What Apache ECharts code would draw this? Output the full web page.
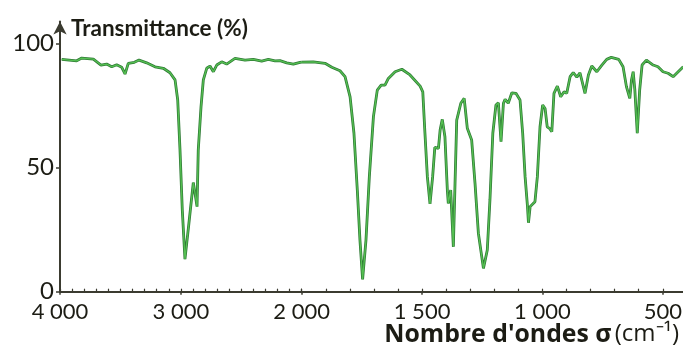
<!DOCTYPE html>
<html><head><meta charset="utf-8">
<script src="https://cdn.jsdelivr.net/npm/echarts@6/dist/echarts.min.js"></script>
<style>html,body{margin:0;padding:0;background:#fff}#c{width:683px;height:351px}</style>
</head><body><div id="c"></div>
<script>
// IR spectrum: wavenumber (cm-1) and transmittance (%)
const wavenumber = [3986,3862,3820,3724,3661,3614,3572,3531,3489,3462,3435,3385,3346,3283,3214,3145,3131,3090,3076,3048,3026,3007,2988,2966,2933,2897,2883,2866,2856,2833,2814,2786,2759,2731,2703,2662,2621,2552,2469,2400,2331,2276,2221,2180,2124,2069,2014,2000,
1952,1903,1875,1841,1820,1799,1783,1769,1758,1747,1733,1719,1702,1686,1670,1654,1640,1612,1584,1550,1508,1497,1488,1478,1467,1456,1447,1432,1425,1416,1405,1395,1391,1381,1370,1363,1356,1339,1325,1312,1294,1280,1266,1245,1229,1218,1206,1193,1183,1172,1162,1155,1142,1127,1110,1093,1082,1072,1062,1058,1051,1031,1021,1010,999,989,980,971,961,952,938,924,910,899,885,872,857,844,823,809,795,774,753,733,714,683,665,651,637,630,623,616,606,596,586,568,540,520,499,478,457,436,415];
const transmittance = [93.7,93.1,94.2,93.8,91.4,91.8,90.7,91.5,90.5,87.8,92.1,92.5,93.4,92.3,90.7,90.1,90.1,88.3,88.1,85.4,77.3,57.1,32.9,13.1,27.7,44.0,39.8,34.3,57.1,74.6,85.4,90.1,91.0,88.7,91.4,92.7,91.8,94.1,93.4,93.7,93.0,93.7,93.1,93.2,92.3,91.8,92.5,92.6,
92.7,92.1,90.5,89.1,86.7,78.6,64.0,41.0,20.8,5.0,20.8,46.4,70.6,81.3,83.3,83.3,86.0,88.7,89.7,87.4,82.9,80.6,63.9,46.4,35.4,46.4,58.2,57.8,65.2,69.5,62.5,41.0,35.6,41.0,18.1,43.8,69.2,76.0,78.0,65.9,61.2,43.7,23.5,9.4,16.8,37.0,63.9,75.3,76.2,60.5,76.0,77.6,76.0,80.2,80.0,77.3,63.9,46.4,34.3,27.8,34.3,36.3,46.4,66.5,75.3,73.9,66.5,65.9,64.5,80.0,82.9,78.6,80.6,80.0,86.7,88.3,86.5,88.3,80.0,87.4,91.0,88.7,91.4,93.7,94.5,93.7,90.7,82.7,78.0,85.4,88.7,81.3,63.9,81.3,91.4,93.4,91.4,90.7,88.7,88.1,86.7,88.7,90.7];
const yTicks = [0, 50, 100];
const xMajorHigh = [4000, 3000, 2000];
const xMajorLow = [1500, 1000, 500];
const xMinorHigh = []; for (let v = 2000; v <= 4000; v += 100) xMinorHigh.push(v);
const xMinorLow = []; for (let v = 500; v <= 2000; v += 100) xMinorLow.push(v);

const highPart = wavenumber.map((w, i) => [w, transmittance[i]]).filter(p => p[0] >= 2000);
const lowPart = wavenumber.map((w, i) => [w, transmittance[i]]).filter(p => p[0] <= 2000);

const INK = '#1c1c14';
const AXIS = '#3b3b30';
const FONT = 'Lato';
const fmt = v => v >= 1000 ? Math.floor(v / 1000) + ' ' + String(v % 1000).padStart(3, '0') : String(v);

function xAxes(gridIndex, min, max, minor, major) {
  return [
    { type: 'value', gridIndex, min, max, inverse: true,
      axisLine: { show: true, onZero: false, lineStyle: { color: AXIS, width: 2 } },
      axisTick: { show: true, inside: true, length: 3, customValues: minor, lineStyle: { color: AXIS, width: 1.2 } },
      axisLabel: { show: false }, splitLine: { show: false } },
    { type: 'value', gridIndex, min, max, inverse: true, position: 'bottom',
      axisLine: { show: false },
      axisTick: { show: true, inside: false, length: 3, customValues: major, lineStyle: { color: AXIS, width: 1.5 } },
      axisLabel: { show: true, customValues: major, formatter: fmt, margin: 9,
        color: INK, fontFamily: FONT, fontSize: 22 },
      splitLine: { show: false } }
  ];
}

const lineDark = { color: '#2f7a35', width: 2.8 };
const lineLight = { color: '#55c052', width: 1.3 };

const option = {
  animation: false,
  backgroundColor: '#ffffff',
  grid: [
    { left: 60, width: 241.7, top: 21.4, height: 270.3, outerBoundsMode: 'none', containLabel: false },
    { left: 301.7, width: 381.3, top: 21.4, height: 270.3, outerBoundsMode: 'none', containLabel: false }
  ],
  xAxis: [
    ...xAxes(0, 2000, 4000, xMinorHigh, xMajorHigh),
    ...xAxes(1, 416, 2000, xMinorLow, xMajorLow)
  ],
  yAxis: [
    { type: 'value', gridIndex: 0, min: 0, max: 109,
      axisLine: { show: true, lineStyle: { color: AXIS, width: 2 }, symbol: ['none', 'arrow'], symbolSize: [10, 13] },
      axisTick: { show: true, length: 4, customValues: yTicks, lineStyle: { color: AXIS, width: 1.5 } },
      axisLabel: { customValues: yTicks, margin: 6, color: INK, fontFamily: FONT, fontSize: 24 },
      splitLine: { show: false } },
    { type: 'value', gridIndex: 1, min: 0, max: 109, show: false }
  ],
  series: [
    { type: 'line', xAxisIndex: 0, yAxisIndex: 0, data: highPart, showSymbol: false, lineStyle: lineDark, z: 2 },
    { type: 'line', xAxisIndex: 0, yAxisIndex: 0, data: highPart, showSymbol: false, lineStyle: lineLight, z: 3 },
    { type: 'line', xAxisIndex: 2, yAxisIndex: 1, data: lowPart, showSymbol: false, lineStyle: lineDark, z: 2 },
    { type: 'line', xAxisIndex: 2, yAxisIndex: 1, data: lowPart, showSymbol: false, lineStyle: lineLight, z: 3 }
  ],
  graphic: [
    { type: 'text', left: 71, top: 17,
      style: { text: 'Transmittance (%)', font: 'bold 22.5px Lato', fill: INK } },
    { type: 'text', right: 4, top: 322,
      style: { text: '{b|Nombre d\'ondes σ} {r|(cm⁻¹)}', fill: INK,
        rich: { b: { font: 'bold 24.8px "Open Sans"', fill: INK }, r: { font: '24px "Open Sans"', fill: INK } } } }
  ]
};
const chart = echarts.init(document.getElementById('c'), null, { renderer: 'canvas' });
chart.setOption(option);
</script></body></html>
